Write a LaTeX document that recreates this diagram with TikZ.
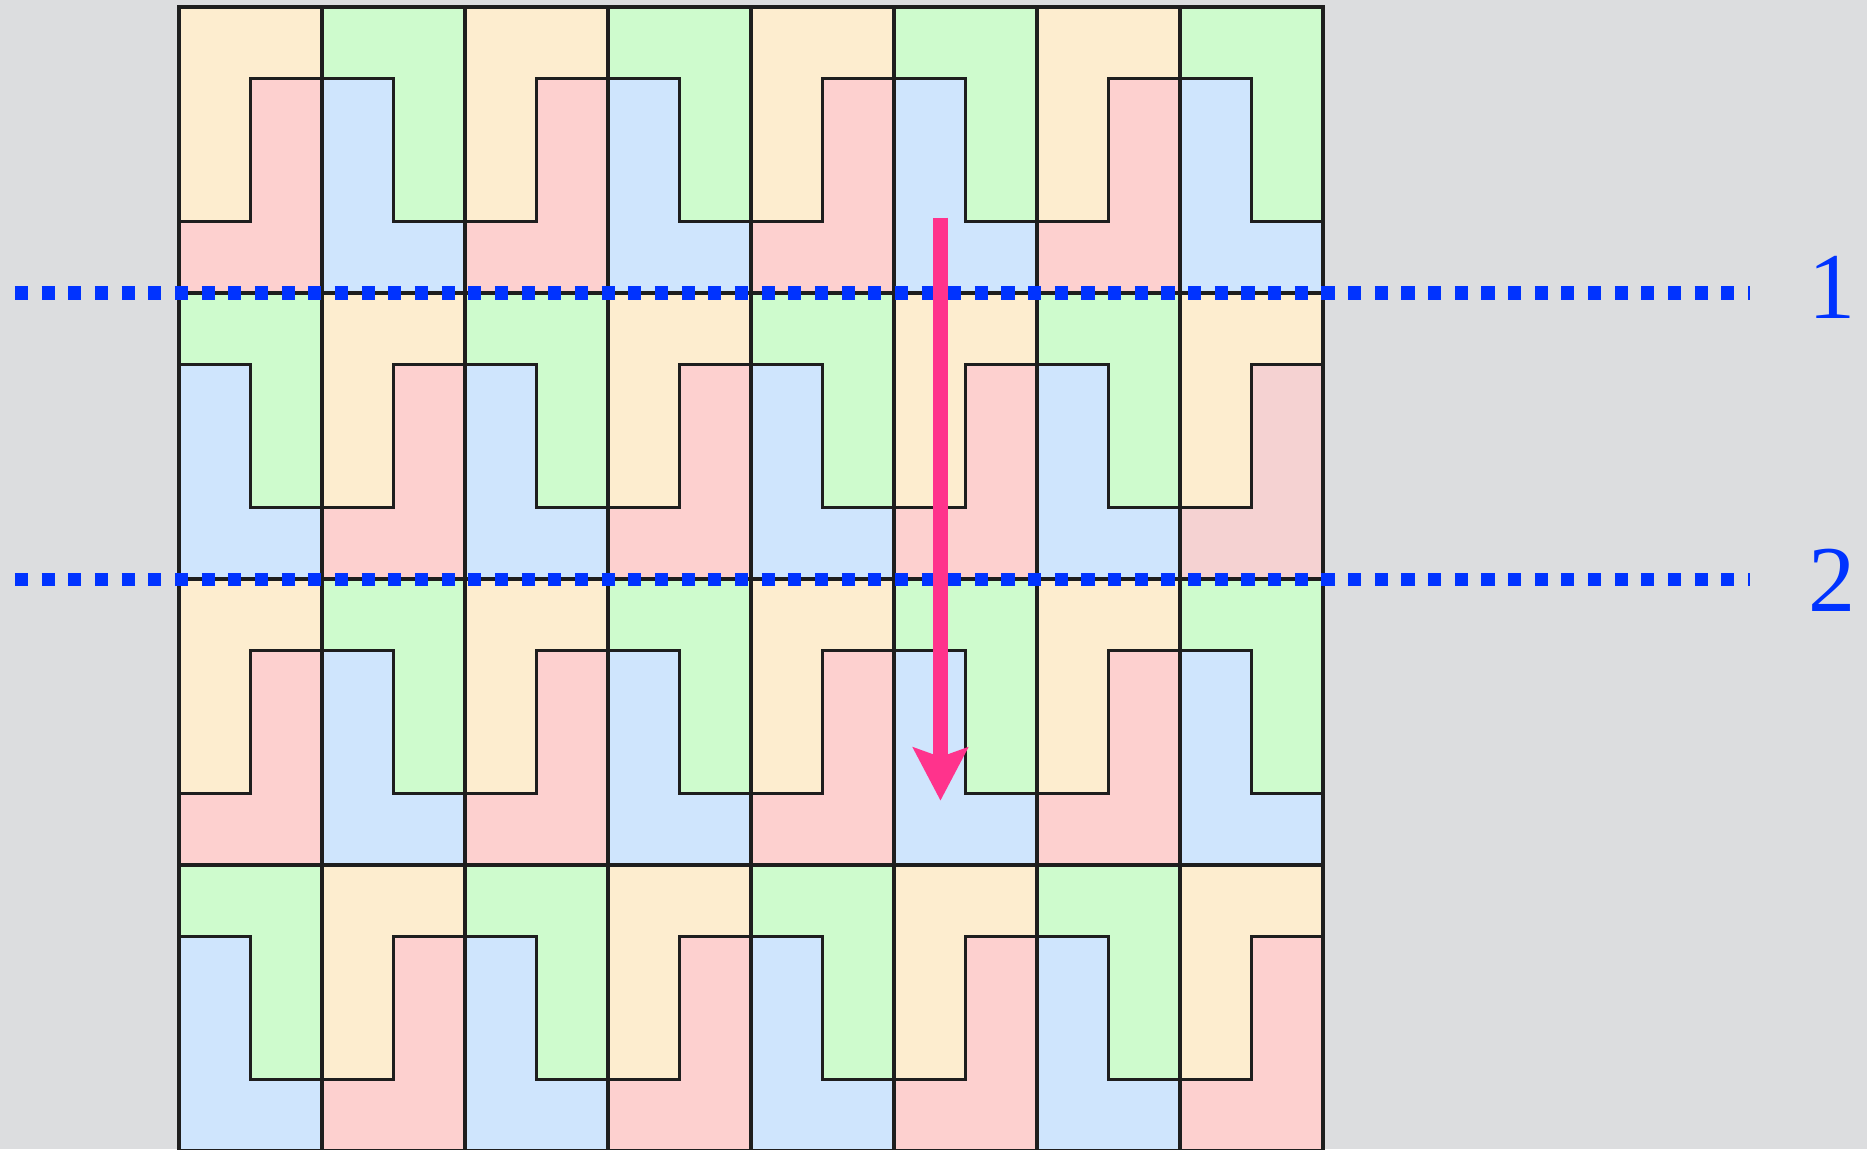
\documentclass[tikz,border=0pt]{standalone}
\usepackage{fontspec}
\setmainfont{Liberation Serif}
\usetikzlibrary{arrows.meta,positioning}

\definecolor{bggray}{RGB}{220,221,223}
\definecolor{tileyellow}{RGB}{253,237,207}
\definecolor{tilepink}{RGB}{253,208,207}
\definecolor{tilepinkdim}{RGB}{245,210,210}
\definecolor{tilegreen}{RGB}{206,251,205}
\definecolor{tileblue}{RGB}{207,229,253}
\definecolor{tileedge}{RGB}{30,30,30}
\definecolor{cutblue}{RGB}{0,51,255}
\definecolor{arrowpink}{RGB}{255,51,140}

\tikzset{
  edge/.style={draw=tileedge, line width=1.5pt, line join=miter},
  cutline/.style={cutblue, line width=5.2pt, dash pattern=on 5.2pt off 5.41pt},
  cutlabel/.style={cutblue, anchor=base, font=\fontsize{37.5}{40}\selectfont},
  shift arrow/.style={arrowpink, line width=5.6pt,
    -{Stealth[length=21pt, width=21.5pt, inset=3.6pt]}}
}

\begin{document}
\begin{tikzpicture}
    \useasboundingbox (-2.503,0.098) rectangle (23.608,-15.972);
    \fill[bggray] (-2.503,0.098) rectangle (23.608,-15.972);

    % Tiles: 8 columns, 4 rows
    \foreach \r in {0,...,3}{
      \foreach \c in {0,...,7}{
        \pgfmathtruncatemacro{\kind}{mod(\c+\r,2)}
        \begin{scope}[shift={(2*\c,-4*\r)}]
          \ifnum\kind=0
            \ifnum\c\r=71
              \fill[tilepinkdim] (0,0) rectangle (2,-4);
            \else
              \fill[tilepink] (0,0) rectangle (2,-4);
            \fi
            \fill[tileyellow] (0,0) -- (2,0) -- (2,-1) -- (1,-1) -- (1,-3) -- (0,-3) -- cycle;
            \draw[edge] (2,-1) -- (1,-1) -- (1,-3) -- (0,-3);
          \else
            \fill[tileblue] (0,0) rectangle (2,-4);
            \fill[tilegreen] (0,0) -- (2,0) -- (2,-3) -- (1,-3) -- (1,-1) -- (0,-1) -- cycle;
            \draw[edge] (0,-1) -- (1,-1) -- (1,-3) -- (2,-3);
          \fi
          \draw[edge] (0,0) rectangle (2,-4);
        \end{scope}
      }
    }

    % Cut lines
    \coordinate (cut1w) at (-2.294,-4);
    \coordinate (cut1e) at (21.972,-4);
    \coordinate (cut2w) at (-2.294,-8);
    \coordinate (cut2e) at (21.972,-8);
    \draw[cutline] (cut1w) -- (cut1e);
    \draw[cutline] (cut2w) -- (cut2e);
    \node[cutlabel] (lab1) at (23.12,-4.35) {1};
    \node[cutlabel] (lab2) at (23.12,-8.46) {2};

    % Shift arrow
    \coordinate (shifttop) at (10.65,-2.947);
    \coordinate (shiftend) at (10.65,-11.10);
    \draw[shift arrow] (shifttop) -- (shiftend);
\end{tikzpicture}
\end{document}
